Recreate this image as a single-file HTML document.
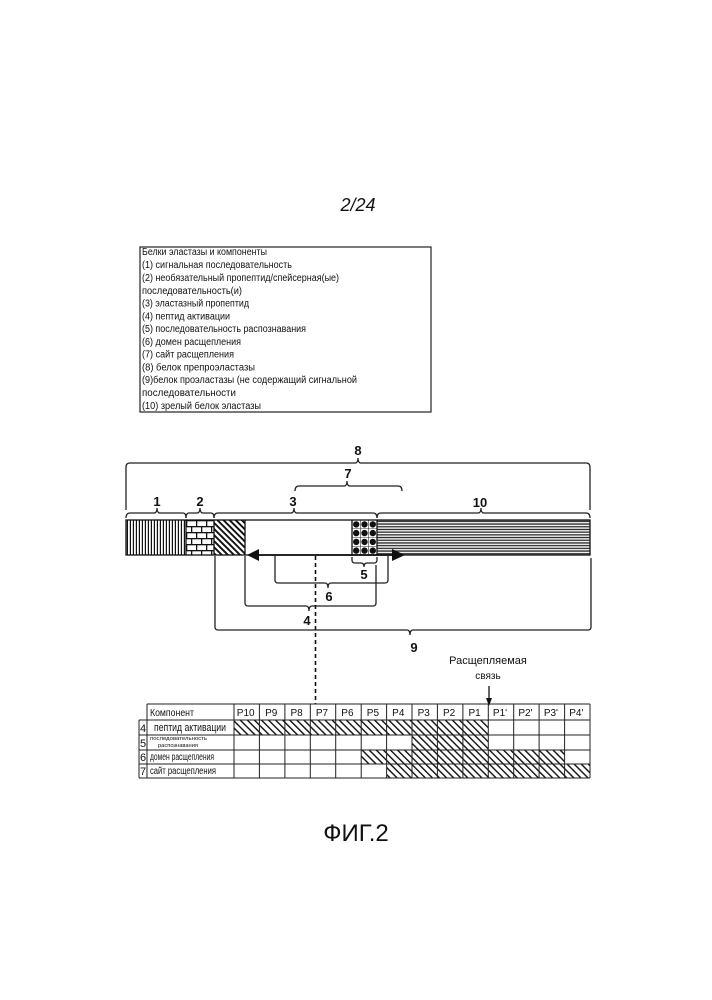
<!DOCTYPE html>
<html>
<head>
<meta charset="utf-8">
<style>
  html,body{margin:0;padding:0;background:#fff;}
  svg{display:block;}
  text{font-family:"Liberation Sans","DejaVu Sans",sans-serif;fill:#111;}
  .lg{font-size:10px;}
  .lb{font-size:13px;font-weight:bold;}
  .tb{font-size:10px;}
</style>
</head>
<body>
<svg width="712" height="1000" viewBox="0 0 712 1000" xmlns="http://www.w3.org/2000/svg">
  <defs>
    <pattern id="vlines" width="3" height="10" patternUnits="userSpaceOnUse">
      <rect x="0.8" y="0" width="1.2" height="10" fill="#111"/>
    </pattern>
    <pattern id="brick" width="10" height="12" patternUnits="userSpaceOnUse" x="186" y="520">
      <rect width="10" height="12" fill="#fff"/>
      <rect x="0" y="0" width="10" height="1.3" fill="#111"/>
      <rect x="0" y="6" width="10" height="1.3" fill="#111"/>
      <rect x="0" y="0" width="1.3" height="6" fill="#111"/>
      <rect x="5" y="6" width="1.3" height="6" fill="#111"/>
    </pattern>
    <pattern id="diag" width="4.3" height="10" patternUnits="userSpaceOnUse" patternTransform="rotate(-45)">
      <rect x="0" y="0" width="1.9" height="10" fill="#111"/>
    </pattern>
    <pattern id="hlines" width="10" height="2.7" patternUnits="userSpaceOnUse" y="520">
      <rect x="0" y="0.7" width="10" height="1.3" fill="#222"/>
    </pattern>
    <pattern id="thatch" width="5" height="10" patternUnits="userSpaceOnUse" patternTransform="rotate(-45)">
      <rect x="0" y="0" width="1.4" height="10" fill="#111"/>
    </pattern>
  </defs>

  <!-- page number -->
  <text x="358" y="211" text-anchor="middle" style="font-size:18px;font-style:italic;">2/24</text>

  <!-- legend box -->
  <rect x="140" y="247" width="291" height="165" fill="none" stroke="#222" stroke-width="1.2"/>
  <g class="lg">
    <text x="142" y="255" textLength="125" lengthAdjust="spacingAndGlyphs">Белки эластазы и компоненты</text>
    <text x="142" y="268" textLength="150" lengthAdjust="spacingAndGlyphs">(1) сигнальная последовательность</text>
    <text x="142" y="281" textLength="197" lengthAdjust="spacingAndGlyphs">(2) необязательный пропептид/спейсерная(ые)</text>
    <text x="142" y="294" textLength="100" lengthAdjust="spacingAndGlyphs">последовательность(и)</text>
    <text x="142" y="306.5" textLength="107" lengthAdjust="spacingAndGlyphs">(3) эластазный пропептид</text>
    <text x="142" y="319.5" textLength="88" lengthAdjust="spacingAndGlyphs">(4) пептид активации</text>
    <text x="142" y="332" textLength="164" lengthAdjust="spacingAndGlyphs">(5) последовательность распознавания</text>
    <text x="142" y="345" textLength="99" lengthAdjust="spacingAndGlyphs">(6) домен расщепления</text>
    <text x="142" y="357.5" textLength="92" lengthAdjust="spacingAndGlyphs">(7) сайт расщепления</text>
    <text x="142" y="370.5" textLength="113" lengthAdjust="spacingAndGlyphs">(8) белок  препроэластазы</text>
    <text x="142" y="383" textLength="215" lengthAdjust="spacingAndGlyphs">(9)белок проэластазы (не содержащий сигнальной</text>
    <text x="142" y="396" textLength="94" lengthAdjust="spacingAndGlyphs">последовательности</text>
    <text x="142" y="409" textLength="119" lengthAdjust="spacingAndGlyphs">(10) зрелый белок эластазы</text>
  </g>

  <!-- bar segments -->
  <rect x="126" y="520" width="60" height="35" fill="#fff"/>
  <rect x="126" y="520" width="60" height="35" fill="url(#vlines)"/>
  <rect x="186" y="520" width="28" height="35" fill="url(#brick)"/>
  <rect x="214" y="520" width="31" height="35" fill="#fff"/>
  <rect x="214" y="520" width="31" height="35" fill="url(#diag)"/>
  <rect x="245" y="520" width="107" height="35" fill="#fff"/>
  <rect x="352" y="520" width="25" height="35" fill="#fff"/>
  <g stroke="#333" stroke-width="0.6">
    <line x1="360.3" y1="520" x2="360.3" y2="555"/>
    <line x1="368.6" y1="520" x2="368.6" y2="555"/>
    <line x1="352" y1="528.75" x2="377" y2="528.75"/>
    <line x1="352" y1="537.5" x2="377" y2="537.5"/>
    <line x1="352" y1="546.25" x2="377" y2="546.25"/>
  </g>
  <g fill="#111">
    <circle cx="356.2" cy="524.4" r="3.2"/><circle cx="364.5" cy="524.4" r="3.2"/><circle cx="372.8" cy="524.4" r="3.2"/>
    <circle cx="356.2" cy="533.1" r="3.2"/><circle cx="364.5" cy="533.1" r="3.2"/><circle cx="372.8" cy="533.1" r="3.2"/>
    <circle cx="356.2" cy="541.9" r="3.2"/><circle cx="364.5" cy="541.9" r="3.2"/><circle cx="372.8" cy="541.9" r="3.2"/>
    <circle cx="356.2" cy="550.6" r="3.2"/><circle cx="364.5" cy="550.6" r="3.2"/><circle cx="372.8" cy="550.6" r="3.2"/>
  </g>
  <rect x="377" y="520" width="213" height="35" fill="#fff"/>
  <rect x="377" y="520" width="213" height="35" fill="url(#hlines)"/>
  <g stroke="#111" stroke-width="1.3" fill="none">
    <rect x="126" y="520" width="464" height="35"/>
    <line x1="186" y1="520" x2="186" y2="555"/>
    <line x1="214" y1="520" x2="214" y2="555"/>
    <line x1="245" y1="520" x2="245" y2="555"/>
    <line x1="352" y1="520" x2="352" y2="555"/>
    <line x1="377" y1="520" x2="377" y2="555"/>
  </g>

  <!-- top braces -->
  <g stroke="#222" stroke-width="1.3" fill="none">
    <path d="M126 510 L126 467 Q126 463 130 463 L355 463 Q358 463 358 458 Q358 463 361 463 L586 463 Q590 463 590 467 L590 510"/>
    <path d="M295 491 Q295 486 299 486 L344 486 Q347 486 347 481 Q347 486 350 486 L398 486 Q402 486 402 491"/>
    <path d="M126 518 Q126 513 130 513 L154 513 Q157 513 157 508 Q157 513 160 513 L183 513 Q186 513 186 518"/>
    <path d="M186 518 Q186 513 189 513 L197 513 Q200 513 200 508 Q200 513 203 513 L211 513 Q214 513 214 518"/>
    <path d="M214 518 Q214 513 218 513 L291 513 Q294 513 294 508 Q294 513 297 513 L373 513 Q377 513 377 518"/>
    <path d="M377 518 Q377 513 381 513 L478 513 Q481 513 481 508 Q481 513 484 513 L586 513 Q590 513 590 518"/>
  </g>
  <g class="lb" text-anchor="middle">
    <text x="358" y="455">8</text>
    <text x="348" y="478">7</text>
    <text x="157" y="506">1</text>
    <text x="200" y="506">2</text>
    <text x="293" y="506">3</text>
    <text x="480" y="507">10</text>
  </g>

  <!-- arrow line -->
  <line x1="255" y1="555" x2="396" y2="555" stroke="#111" stroke-width="1.8"/>
  <polygon points="247,555 259,549 259,561" fill="#111"/>
  <polygon points="405,555 392,549 392,561" fill="#111"/>

  <!-- bottom braces -->
  <g stroke="#222" stroke-width="1.3" fill="none">
    <path d="M352 557 L352 560 Q352 563 355 563 L361 563 Q364 563 364 567 Q364 563 367 563 L374 563 Q377 563 377 560 L377 557"/>
    <path d="M275 556 L275 580 Q275 583 278 583 L325 583 Q328 583 328 588 Q328 583 331 583 L385 583 Q388 583 388 580 L388 556"/>
    <path d="M245 556 L245 603 Q245 606 248 606 L306 606 Q309 606 309 611 Q309 606 312 606 L373 606 Q376 606 376 603 L376 565"/>
    <path d="M215 556 L215 627 Q215 630 218 630 L407 630 Q410 630 410 635 Q410 630 413 630 L588 630 Q591 630 591 627 L591 558"/>
  </g>
  <g class="lb" text-anchor="middle">
    <text x="364" y="579">5</text>
    <text x="329" y="601">6</text>
    <text x="307" y="625">4</text>
    <text x="414" y="652">9</text>
  </g>

  <!-- dashed line -->
  <line x1="315.5" y1="556" x2="315.5" y2="704" stroke="#111" stroke-width="1.6" stroke-dasharray="4,3"/>

  <!-- cleavable bond label -->
  <text x="488" y="664" text-anchor="middle" style="font-size:11px;">Расщепляемая</text>
  <text x="488" y="679" text-anchor="middle" style="font-size:10px;">связь</text>
  <line x1="489" y1="686" x2="489" y2="700" stroke="#111" stroke-width="1.3"/>
  <polygon points="489,706 486,698 492,698" fill="#111"/>

  <!-- table hatched cells -->
  <g fill="url(#thatch)">
    <rect x="234" y="720" width="254.3" height="15"/>
    <rect x="412" y="735" width="76.3" height="15"/>
    <rect x="361.2" y="750" width="203.4" height="14"/>
    <rect x="386.6" y="764" width="203.4" height="14"/>
  </g>

  <!-- table grid -->
  <g stroke="#222" stroke-width="1" fill="none">
    <line x1="147" y1="704" x2="590" y2="704"/>
    <line x1="139" y1="720" x2="590" y2="720"/>
    <line x1="139" y1="735" x2="590" y2="735"/>
    <line x1="139" y1="750" x2="590" y2="750"/>
    <line x1="139" y1="764" x2="590" y2="764"/>
    <line x1="139" y1="778" x2="590" y2="778"/>
    <line x1="139" y1="720" x2="139" y2="778"/>
    <line x1="147" y1="704" x2="147" y2="778"/>
    <line x1="234" y1="704" x2="234" y2="778"/>
    <line x1="259.4" y1="704" x2="259.4" y2="778"/>
    <line x1="284.9" y1="704" x2="284.9" y2="778"/>
    <line x1="310.3" y1="704" x2="310.3" y2="778"/>
    <line x1="335.7" y1="704" x2="335.7" y2="778"/>
    <line x1="361.2" y1="704" x2="361.2" y2="778"/>
    <line x1="386.6" y1="704" x2="386.6" y2="778"/>
    <line x1="412" y1="704" x2="412" y2="778"/>
    <line x1="437.4" y1="704" x2="437.4" y2="778"/>
    <line x1="462.9" y1="704" x2="462.9" y2="778"/>
    <line x1="488.3" y1="704" x2="488.3" y2="778"/>
    <line x1="513.7" y1="704" x2="513.7" y2="778"/>
    <line x1="539.1" y1="704" x2="539.1" y2="778"/>
    <line x1="564.6" y1="704" x2="564.6" y2="778"/>
    <line x1="590" y1="704" x2="590" y2="778"/>
  </g>

  <!-- table text -->
  <g class="tb">
    <text x="150" y="716" textLength="44" lengthAdjust="spacingAndGlyphs">Компонент</text>
    <text x="154" y="731" textLength="72" lengthAdjust="spacingAndGlyphs" style="font-size:11px;">пептид активации</text>
    <text x="150" y="740" textLength="57" lengthAdjust="spacingAndGlyphs" style="font-size:5.5px;">последовательность</text>
    <text x="158" y="747" textLength="40" lengthAdjust="spacingAndGlyphs" style="font-size:5.5px;">распознавания</text>
    <text x="150" y="760" textLength="64" lengthAdjust="spacingAndGlyphs">домен расщепления</text>
    <text x="150" y="774" textLength="66" lengthAdjust="spacingAndGlyphs">сайт расщепления</text>
  </g>
  <g style="font-size:11px;" text-anchor="middle">
    <text x="143" y="732">4</text>
    <text x="143" y="747">5</text>
    <text x="143" y="761">6</text>
    <text x="143" y="775">7</text>
  </g>
  <g class="tb" text-anchor="middle">
    <text x="245.7" y="716">P10</text>
    <text x="271.2" y="716">P9</text>
    <text x="296.6" y="716">P8</text>
    <text x="322" y="716">P7</text>
    <text x="347.4" y="716">P6</text>
    <text x="372.9" y="716">P5</text>
    <text x="398.3" y="716">P4</text>
    <text x="423.7" y="716">P3</text>
    <text x="449.1" y="716">P2</text>
    <text x="474.6" y="716">P1</text>
    <text x="500" y="716">P1'</text>
    <text x="525.4" y="716">P2'</text>
    <text x="550.9" y="716">P3'</text>
    <text x="576.3" y="716">P4'</text>
  </g>

  <!-- figure caption -->
  <text x="356" y="841" text-anchor="middle" style="font-size:24px;">ФИГ.2</text>
</svg>
</body>
</html>
